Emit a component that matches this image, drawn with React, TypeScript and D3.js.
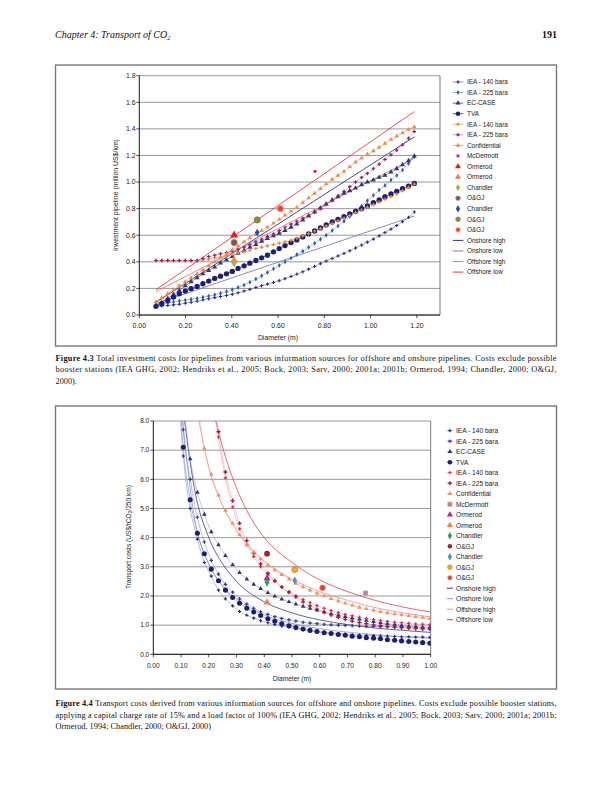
import React from "react";
import * as d3 from "d3";

// ================= Figure 4.3 : investment (million US$/km) vs diameter (m) =================
const diam43 = [0.072, 0.097, 0.123, 0.148, 0.173, 0.199, 0.224, 0.25, 0.275, 0.3, 0.326, 0.351, 0.377, 0.402, 0.427, 0.453, 0.478, 0.504, 0.529, 0.554, 0.58, 0.605, 0.63, 0.656, 0.681, 0.707, 0.732, 0.758, 0.783, 0.808, 0.834, 0.859, 0.885, 0.91, 0.935, 0.961, 0.986, 1.012, 1.037, 1.062, 1.088, 1.113, 1.138, 1.164, 1.189];
const iea140On43 = [0.063, 0.068, 0.072, 0.076, 0.081, 0.089, 0.096, 0.104, 0.113, 0.122, 0.131, 0.139, 0.147, 0.156, 0.167, 0.18, 0.193, 0.207, 0.22, 0.232, 0.245, 0.258, 0.273, 0.29, 0.307, 0.325, 0.345, 0.365, 0.386, 0.406, 0.425, 0.444, 0.463, 0.483, 0.504, 0.526, 0.548, 0.571, 0.595, 0.62, 0.646, 0.673, 0.702, 0.735, 0.775];
const iea225On43 = [0.07, 0.08, 0.09, 0.098, 0.105, 0.112, 0.118, 0.125, 0.133, 0.142, 0.152, 0.163, 0.176, 0.19, 0.207, 0.225, 0.247, 0.27, 0.295, 0.32, 0.347, 0.373, 0.4, 0.428, 0.455, 0.48, 0.51, 0.54, 0.57, 0.6, 0.635, 0.67, 0.705, 0.74, 0.78, 0.82, 0.86, 0.9, 0.94, 0.975, 1.015, 1.05, 1.09, 1.14, 1.19];
const ecCase43 = [0.07, 0.095, 0.125, 0.155, 0.185, 0.22, 0.25, 0.28, 0.31, 0.335, 0.36, 0.39, 0.415, 0.44, 0.465, 0.485, 0.51, 0.53, 0.555, 0.575, 0.595, 0.615, 0.635, 0.66, 0.685, 0.715, 0.745, 0.775, 0.805, 0.835, 0.865, 0.89, 0.915, 0.935, 0.955, 0.98, 1.0, 1.015, 1.035, 1.05, 1.075, 1.1, 1.13, 1.16, 1.195];
const tva43 = [0.065, 0.085, 0.11, 0.135, 0.16, 0.18, 0.198, 0.215, 0.235, 0.255, 0.275, 0.292, 0.31, 0.328, 0.35, 0.37, 0.39, 0.41, 0.43, 0.45, 0.475, 0.5, 0.522, 0.545, 0.565, 0.587, 0.61, 0.632, 0.655, 0.677, 0.7, 0.72, 0.74, 0.76, 0.78, 0.8, 0.82, 0.845, 0.865, 0.89, 0.91, 0.93, 0.95, 0.97, 0.99];
const iea140Off43 = [0.41, 0.41, 0.41, 0.41, 0.41, 0.41, 0.41, 0.41, 0.415, 0.42, 0.43, 0.435, 0.445, 0.455, 0.465, 0.475, 0.487, 0.5, 0.51, 0.52, 0.53, 0.54, 0.55, 0.562, 0.578, 0.595, 0.612, 0.63, 0.65, 0.668, 0.688, 0.708, 0.728, 0.748, 0.77, 0.79, 0.81, 0.83, 0.85, 0.87, 0.89, 0.91, 0.935, 0.96, 0.985];
const iea225Off43 = [0.41, 0.41, 0.41, 0.41, 0.41, 0.41, 0.41, 0.41, 0.425, 0.44, 0.45, 0.46, 0.47, 0.48, 0.495, 0.51, 0.53, 0.55, 0.57, 0.59, 0.61, 0.635, 0.66, 0.683, 0.705, 0.728, 0.75, 0.775, 0.8, 0.83, 0.86, 0.895, 0.93, 0.965, 1.0, 1.035, 1.065, 1.1, 1.135, 1.17, 1.205, 1.24, 1.28, 1.33, 1.38];
const confidential43 = [0.1, 0.13, 0.16, 0.19, 0.22, 0.25, 0.28, 0.31, 0.34, 0.37, 0.4, 0.43, 0.46, 0.49, 0.52, 0.55, 0.58, 0.61, 0.635, 0.66, 0.69, 0.72, 0.75, 0.78, 0.81, 0.845, 0.88, 0.915, 0.95, 0.985, 1.02, 1.05, 1.08, 1.115, 1.15, 1.18, 1.21, 1.235, 1.26, 1.29, 1.32, 1.345, 1.37, 1.395, 1.415];
// single sources: McDermott, Ormerod, Ormerod, Chandler, O&GJ, Chandler, O&GJ, O&GJ
const pointX43 = [0.76, 0.41, 0.41, 0.41, 0.41, 0.51, 0.51, 0.61];
const pointY43 = [1.08, 0.6, 0.41, 0.39, 0.545, 0.62, 0.715, 0.8];
const trendX43 = [0.072, 1.189];
const onshoreHigh43 = [0.095, 1.34];
const onshoreLow43 = [0.085, 0.745];
const offshoreHigh43 = [0.175, 1.18];
const offshoreLow43 = [0.19, 1.53];
const xTicks43 = [0, 0.2, 0.4, 0.6, 0.8, 1.0, 1.2];
const yTicks43 = [0, 0.2, 0.4, 0.6, 0.8, 1.0, 1.2, 1.4, 1.6, 1.8];

// ================= Figure 4.4 : transport cost (US$/tCO2/250 km) vs diameter (m) =================
const diam44 = [0.082, 0.108, 0.133, 0.159, 0.184, 0.209, 0.235, 0.26, 0.286, 0.311, 0.337, 0.362, 0.387, 0.413, 0.438, 0.463, 0.489, 0.514, 0.54, 0.565, 0.59, 0.616, 0.641, 0.667, 0.692, 0.717, 0.743, 0.768, 0.794, 0.819, 0.844, 0.87, 0.895, 0.921, 0.946, 0.971, 0.997];
const iea140On44 = [10.5, 6.8, 5.0, 3.95, 3.15, 2.68, 2.2, 1.9, 1.66, 1.47, 1.34, 1.24, 1.15, 1.08, 1.02, 0.97, 0.92, 0.88, 0.84, 0.81, 0.78, 0.75, 0.73, 0.71, 0.69, 0.67, 0.66, 0.65, 0.64, 0.63, 0.62, 0.61, 0.6, 0.6, 0.59, 0.59, 0.58];
const iea225On44 = [12, 7.7, 6.0, 4.7, 3.85, 3.22, 2.75, 2.4, 2.13, 1.9, 1.72, 1.58, 1.46, 1.37, 1.29, 1.23, 1.18, 1.14, 1.1, 1.07, 1.05, 1.03, 1.01, 1.0, 0.99, 0.98, 0.97, 0.96, 0.96, 0.95, 0.95, 0.94, 0.94, 0.94, 0.93, 0.93, 0.93];
const ecCase44 = [null, 8.6, 6.7, 5.55, 4.8, 4.2, 3.75, 3.38, 3.07, 2.8, 2.58, 2.4, 2.25, 2.11, 1.99, 1.89, 1.8, 1.72, 1.64, 1.57, 1.51, 1.45, 1.39, 1.34, 1.29, 1.24, 1.2, 1.16, 1.12, 1.08, 1.05, 1.02, 0.99, 0.96, 0.94, 0.91, 0.89];
const tva44 = [11, 7.1, 5.3, 4.15, 3.45, 2.92, 2.52, 2.2, 1.95, 1.75, 1.58, 1.45, 1.33, 1.22, 1.13, 1.05, 0.98, 0.92, 0.87, 0.82, 0.78, 0.74, 0.71, 0.68, 0.65, 0.62, 0.6, 0.57, 0.55, 0.53, 0.5, 0.48, 0.46, 0.44, 0.42, 0.4, 0.38];
const iea140Off44 = [null, null, null, null, null, 9.5, 7.45, 6.05, 5.05, 4.3, 3.75, 3.35, 3.0, 2.72, 2.5, 2.3, 2.14, 2.0, 1.88, 1.77, 1.67, 1.58, 1.5, 1.43, 1.37, 1.32, 1.27, 1.23, 1.19, 1.16, 1.13, 1.1, 1.08, 1.06, 1.04, 1.03, 1.02];
const iea225Off44 = [null, null, null, null, null, 9.8, 7.63, 6.25, 5.27, 4.49, 3.9, 3.47, 3.1, 2.78, 2.52, 2.31, 2.13, 1.97, 1.8, 1.66, 1.54, 1.44, 1.35, 1.27, 1.2, 1.14, 1.09, 1.05, 1.01, 0.98, 0.95, 0.93, 0.91, 0.9, 0.88, 0.87, 0.86];
const confidential44 = [null, null, null, 8.6, 7.06, 6.17, 5.46, 4.93, 4.49, 4.09, 3.75, 3.5, 3.27, 3.06, 2.89, 2.73, 2.58, 2.43, 2.31, 2.2, 2.09, 2.0, 1.91, 1.83, 1.75, 1.68, 1.61, 1.56, 1.51, 1.46, 1.42, 1.38, 1.35, 1.32, 1.29, 1.26, 1.23];
const pointX44 = [0.765, 0.41, 0.41, 0.41, 0.41, 0.51, 0.51, 0.61];
const pointY44 = [2.1, 2.6, 1.78, 2.47, 3.45, 2.53, 2.9, 2.28];
const onshoreHighX44 = [0.1, 0.15, 0.2, 0.25, 0.3, 0.4, 0.5, 0.6, 0.7, 0.8, 0.9, 1.0];
const onshoreHigh44 = [9.0, 5.6, 4.0, 3.1, 2.5, 1.8, 1.42, 1.18, 1.02, 0.9, 0.82, 0.75];
const onshoreLowX44 = [0.095, 0.15, 0.2, 0.25, 0.3, 0.4, 0.5, 0.6, 0.7, 0.8, 0.9, 1.0];
const onshoreLow44 = [9.0, 4.6, 3.1, 2.35, 1.9, 1.35, 1.06, 0.88, 0.76, 0.67, 0.6, 0.55];
const offshoreHighX44 = [0.155, 0.2, 0.25, 0.3, 0.35, 0.4, 0.5, 0.6, 0.7, 0.8, 0.9, 1.0];
const offshoreHigh44 = [8.5, 6.4, 5.1, 4.25, 3.65, 3.2, 2.58, 2.15, 1.85, 1.6, 1.42, 1.28];
const offshoreLowX44 = [0.205, 0.25, 0.3, 0.35, 0.4, 0.5, 0.6, 0.7, 0.8, 0.9, 1.0];
const offshoreLow44 = [8.8, 7.1, 5.7, 4.7, 4.0, 3.15, 2.55, 2.15, 1.85, 1.62, 1.45];
const xTicks44 = [0, 0.1, 0.2, 0.3, 0.4, 0.5, 0.6, 0.7, 0.8, 0.9, 1.0];
const yTicks44 = [0, 1, 2, 3, 4, 5, 6, 7, 8];

const legendLabels = ["IEA - 140 bara", "IEA - 225 bara", "EC-CASE", "TVA", "IEA - 140 bara", "IEA - 225 bara", "Confidential", "McDermott", "Ormerod", "Ormerod", "Chandler", "O&GJ", "Chandler", "O&GJ", "O&GJ", "Onshore high", "Onshore low", "Offshore high", "Offshore low"];

// ================= rendering =================
const SANS = "'Liberation Sans', Arial, Helvetica, sans-serif";
const SERIF = "'Liberation Serif', 'Times New Roman', Times, serif";

const symbolTypes: Record<string, any> = {
  cross: d3.symbolCross, diamond: d3.symbolDiamond, triangle: d3.symbolTriangle,
  circle: d3.symbolCircle, square: d3.symbolSquare,
};
const sym = (t: string, s: number) => d3.symbol().type(symbolTypes[t]).size(s)() || "";

type Sty = { line?: string; lw?: number; marker?: string; fill?: string; stroke?: string; size?: number };
type Ser = Sty & { label: string; xs: number[]; ys: (number | null)[]; kind: "series" | "point" | "trend" };

function build(xsList: number[][], ysList: (number | null)[][], kinds: ("series" | "point" | "trend")[], styles: Sty[]): Ser[] {
  return legendLabels.map((label, i) => ({ label, xs: xsList[i], ys: ysList[i], kind: kinds[i], ...styles[i] }));
}

const kinds: ("series" | "point" | "trend")[] = ["series", "series", "series", "series", "series", "series", "series", "point", "point", "point", "point", "point", "point", "point", "point", "trend", "trend", "trend", "trend"];

const styles43: Sty[] = [
  { line: "#7070b8", lw: 0.6, marker: "cross", fill: "#2a2c7a", size: 6 },
  { line: "#6f8fd0", lw: 0.6, marker: "diamond", fill: "#2d5aa8", size: 7 },
  { line: "#404090", lw: 0.6, marker: "triangle", fill: "#283a80", size: 11 },
  { line: "#2a2a7a", lw: 0.6, marker: "circle", fill: "#1e2070", size: 22 },
  { line: "#f0a060", lw: 0.6, marker: "cross", fill: "#e8863a", size: 7 },
  { line: "#d878a8", lw: 0.6, marker: "cross", fill: "#8c2458", size: 7 },
  { line: "#f09060", lw: 0.6, marker: "triangle", fill: "#ec8c48", size: 9 },
  { marker: "square", fill: "#c8204a", size: 8 },
  { marker: "triangle", fill: "#e02020", size: 28 },
  { marker: "triangle", fill: "#f08040", size: 26 },
  { marker: "diamond", fill: "#b0b040", size: 22 },
  { marker: "circle", fill: "#9a4a3a", stroke: "#8a8a8a", size: 30 },
  { marker: "diamond", fill: "#2850a0", size: 18 },
  { marker: "circle", fill: "#7a9a30", stroke: "#a06030", size: 30 },
  { marker: "circle", fill: "#f04030", stroke: "#f0a070", size: 30 },
  { line: "#34348a", lw: 0.9 },
  { line: "#7a7ac4", lw: 0.9 },
  { line: "#e87890", lw: 0.9 },
  { line: "#e03c48", lw: 0.9 },
];

const styles44: Sty[] = [
  { line: "#8a8ed0", lw: 0.6, marker: "cross", fill: "#26287a", size: 6 },
  { line: "#8a8ed0", lw: 0.6, marker: "cross", fill: "#2a3c8c", size: 7 },
  { line: "#9a9ad0", lw: 0.6, marker: "triangle", fill: "#2c3280", size: 9 },
  { line: "#8a8ed0", lw: 0.6, marker: "circle", fill: "#1c1e6e", size: 20 },
  { line: "#f0a0a8", lw: 0.6, marker: "cross", fill: "#d02838", size: 6 },
  { line: "#f0a0a8", lw: 0.6, marker: "cross", fill: "#9a1e3c", size: 9 },
  { line: "#f4b0a0", lw: 0.6, marker: "triangle", fill: "#f09060", size: 9 },
  { marker: "square", fill: "#b080b8", stroke: "#e09040", size: 16 },
  { marker: "triangle", fill: "#c02080", size: 22 },
  { marker: "triangle", fill: "#f08050", size: 22 },
  { marker: "diamond", fill: "#30a060", size: 22 },
  { marker: "circle", fill: "#a02030", size: 26 },
  { marker: "diamond", fill: "#4a90d0", size: 18 },
  { marker: "circle", fill: "#e8b020", stroke: "#e07030", size: 26 },
  { marker: "circle", fill: "#e84030", stroke: "#f09060", size: 26 },
  { line: "#3a3a8c", lw: 0.8 },
  { line: "#9090d0", lw: 0.8 },
  { line: "#f08890", lw: 0.8 },
  { line: "#e04050", lw: 0.8 },
];

const series43 = build(
  [diam43, diam43, diam43, diam43, diam43, diam43, diam43,
    ...pointX43.map((v) => [v]), trendX43, trendX43, trendX43, trendX43],
  [iea140On43, iea225On43, ecCase43, tva43, iea140Off43, iea225Off43, confidential43,
    ...pointY43.map((v) => [v]), onshoreHigh43, onshoreLow43, offshoreHigh43, offshoreLow43],
  kinds, styles43);

const series44 = build(
  [diam44, diam44, diam44, diam44, diam44, diam44, diam44,
    ...pointX44.map((v) => [v]), onshoreHighX44, onshoreLowX44, offshoreHighX44, offshoreLowX44],
  [iea140On44, iea225On44, ecCase44, tva44, iea140Off44, iea225Off44, confidential44,
    ...pointY44.map((v) => [v]), onshoreHigh44, onshoreLow44, offshoreHigh44, offshoreLow44],
  kinds, styles44);

type Frame = {
  id: string; left: number; right: number; top: number; bottom: number; xMax: number; yMax: number;
  xTicks: number[]; yTicks: number[]; xFmt: (n: number) => string; yFmt: (n: number) => string;
  yLabX: number; xLabY: number; yTitle: React.ReactNode; yTitleX: number; yTitleY: number;
  xTitleX: number; xTitleY: number; xTitle: string; legY0: number; legDy: number; legX1: number; legX2: number; legTx: number;
  smooth: boolean; fs: number; legFs: number;
};

function Chart({ f, series }: { f: Frame; series: Ser[] }) {
  const x = d3.scaleLinear().domain([0, f.xMax]).range([f.left, f.right]);
  const y = d3.scaleLinear().domain([0, f.yMax]).range([f.bottom, f.top]);
  const gen = d3.line<[number, number | null]>()
    .defined((d) => d[1] != null)
    .x((d) => x(d[0]))
    .y((d) => y(d[1] as number))
    .curve(f.smooth ? d3.curveMonotoneX : d3.curveLinear);
  const pts = (s: Ser) => s.xs.map((v, i) => [v, s.ys[i]] as [number, number | null]);
  const order = [...series.filter((s) => s.kind === "trend"), ...series.filter((s) => s.kind === "series"), ...series.filter((s) => s.kind === "point")];
  return (
    <g>
      <defs>
        <clipPath id={f.id}>
          <rect x={f.left} y={f.top} width={f.right - f.left} height={f.bottom - f.top} />
        </clipPath>
      </defs>
      {f.yTicks.map((t) => (
        <line key={"g" + t} x1={f.left} x2={f.right} y1={y(t)} y2={y(t)} stroke="#8c8c8c" strokeWidth={0.9} />
      ))}
      <line x1={f.right} x2={f.right} y1={f.top} y2={f.bottom} stroke="#6a6a6a" strokeWidth={0.9} />
      <g clipPath={`url(#${f.id})`}>
        {order.map((s, k) =>
          s.line && s.kind !== "point" ? (
            <path key={"l" + k} d={gen(pts(s)) || ""} fill="none" stroke={s.line} strokeWidth={s.lw || 0.6} />
          ) : null
        )}
        {order.map((s, k) =>
          s.marker
            ? pts(s).filter((d) => d[1] != null).map((d, j) => (
              <path key={"m" + k + "_" + j} d={sym(s.marker as string, s.size || 10)}
                transform={`translate(${x(d[0])},${y(d[1] as number)})`}
                fill={s.fill} stroke={s.stroke || "none"} strokeWidth={s.stroke ? 0.8 : 0} />
            ))
            : null
        )}
      </g>
      <line x1={f.left} x2={f.left} y1={f.top} y2={f.bottom} stroke="#000" strokeWidth={0.9} />
      <line x1={f.left} x2={f.right} y1={f.bottom} y2={f.bottom} stroke="#000" strokeWidth={0.9} />
      {f.yTicks.map((t) => (
        <g key={"yt" + t}>
          <line x1={f.left - 3} x2={f.left} y1={y(t)} y2={y(t)} stroke="#000" strokeWidth={0.7} />
          <text x={f.yLabX} y={y(t) + f.fs * 0.35} textAnchor="end" fontSize={f.fs} fontFamily={SANS} fill="#222">{f.yFmt(t)}</text>
        </g>
      ))}
      {f.xTicks.map((t) => (
        <g key={"xt" + t}>
          <line x1={x(t)} x2={x(t)} y1={f.bottom} y2={f.bottom + 3} stroke="#000" strokeWidth={0.7} />
          <text x={x(t)} y={f.xLabY} textAnchor="middle" fontSize={f.fs} fontFamily={SANS} fill="#222">{f.xFmt(t)}</text>
        </g>
      ))}
      <text transform={`translate(${f.yTitleX},${f.yTitleY}) rotate(-90)`} textAnchor="middle" fontSize={f.fs} fontFamily={SANS} fill="#222">{f.yTitle}</text>
      <text x={f.xTitleX} y={f.xTitleY} textAnchor="middle" fontSize={f.fs} fontFamily={SANS} fill="#222">{f.xTitle}</text>
      {series.map((s, i) => {
        const ly = f.legY0 + i * f.legDy;
        const cx = (f.legX1 + f.legX2) / 2;
        return (
          <g key={"lg" + i}>
            {s.line && s.kind !== "point" ? (
              <line x1={f.legX1} x2={f.legX2} y1={ly} y2={ly} stroke={s.line} strokeWidth={s.kind === "trend" ? 1 : 0.8} />
            ) : null}
            {s.marker ? (
              <path d={sym(s.marker, Math.min(s.size || 10, 16))} transform={`translate(${cx},${ly})`} fill={s.fill} stroke={s.stroke || "none"} strokeWidth={s.stroke ? 0.7 : 0} />
            ) : null}
            <text x={f.legTx} y={ly + f.legFs * 0.36} fontSize={f.legFs} fontFamily={SANS} fill="#222">{s.label}</text>
          </g>
        );
      })}
    </g>
  );
}

const frame43: Frame = {
  id: "clip43", left: 139.3, right: 440, top: 75.7, bottom: 315, xMax: 1.3, yMax: 1.8,
  xTicks: xTicks43, yTicks: yTicks43, xFmt: d3.format(".2f"), yFmt: d3.format(".1f"),
  yLabX: 135.5, xLabY: 327.5,
  yTitle: "Investment pipeline (million US$/km)", yTitleX: 118, yTitleY: 195,
  xTitleX: 278, xTitleY: 339.5, xTitle: "Diameter (m)",
  legY0: 82, legDy: 10.56, legX1: 452.7, legX2: 463.3, legTx: 467,
  smooth: false, fs: 6.9, legFs: 6.4,
};

const frame44: Frame = {
  id: "clip44", left: 153.3, right: 430.7, top: 421, bottom: 654.3, xMax: 1.0, yMax: 8,
  xTicks: xTicks44, yTicks: yTicks44, xFmt: d3.format(".2f"), yFmt: d3.format(".1f"),
  yLabX: 149.3, xLabY: 667.5,
  yTitle: (
    <>
      <tspan>Transport costs (US$/tCO</tspan>
      <tspan fontSize={4.8} dy={1.6}>2</tspan>
      <tspan dy={-1.6}>/250 km)</tspan>
    </>
  ),
  yTitleX: 130.5, yTitleY: 537,
  xTitleX: 292, xTitleY: 681, xTitle: "Diameter (m)",
  legY0: 430.7, legDy: 10.5, legX1: 446.8, legX2: 453, legTx: 456,
  smooth: true, fs: 6.6, legFs: 6.6,
};

export default function App() {
  return (
    <svg width={612} height={792} viewBox="0 0 612 792" style={{ position: "absolute", left: 0, top: 0, background: "#fff" }}>
      <rect x={0} y={0} width={612} height={792} fill="#fff" />
      <text x={55} y={38} fontFamily={SERIF} fontStyle="italic" fontSize={10} fill="#111">
        <tspan>Chapter 4: Transport of CO</tspan>
        <tspan fontSize={6.5} dy={2}>2</tspan>
      </text>
      <text x={557} y={38} textAnchor="end" fontFamily={SERIF} fontWeight="bold" fontSize={10} fill="#111">191</text>

      <rect x={55.5} y={65} width={501} height={281} fill="none" stroke="#7a7a7a" strokeWidth={1.4} />
      <Chart f={frame43} series={series43} />
      <g fontFamily={SERIF} fontSize={8.3} fill="#111">
        <text x={55.5} y={360.5} textLength={501} lengthAdjust="spacing">
          <tspan fontWeight="bold">Figure 4.3</tspan> Total investment costs for pipelines from various information sources for offshore and onshore pipelines. Costs exclude possible
        </text>
        <text x={55.5} y={372} textLength={501} lengthAdjust="spacing">
          booster stations (IEA GHG, 2002; Hendriks et al., 2005; Bock, 2003; Sarv, 2000; 2001a; 2001b; Ormerod, 1994; Chandler, 2000; O&amp;GJ,
        </text>
        <text x={55.5} y={383.5}>2000).</text>
      </g>

      <rect x={55.5} y={406} width={501} height={283} fill="none" stroke="#7a7a7a" strokeWidth={1.4} />
      <Chart f={frame44} series={series44} />
      <g fontFamily={SERIF} fontSize={8.3} fill="#111">
        <text x={55.5} y={706} textLength={501} lengthAdjust="spacing">
          <tspan fontWeight="bold">Figure 4.4</tspan> Transport costs derived from various information sources for offshore and onshore pipelines. Costs exclude possible booster stations,
        </text>
        <text x={55.5} y={717.5} textLength={501} lengthAdjust="spacing">
          applying a capital charge rate of 15% and a load factor of 100% (IEA GHG, 2002; Hendriks et al., 2005; Bock, 2003; Sarv, 2000; 2001a; 2001b;
        </text>
        <text x={55.5} y={729}>Ormerod, 1994; Chandler, 2000; O&amp;GJ, 2000)</text>
      </g>
    </svg>
  );
}
